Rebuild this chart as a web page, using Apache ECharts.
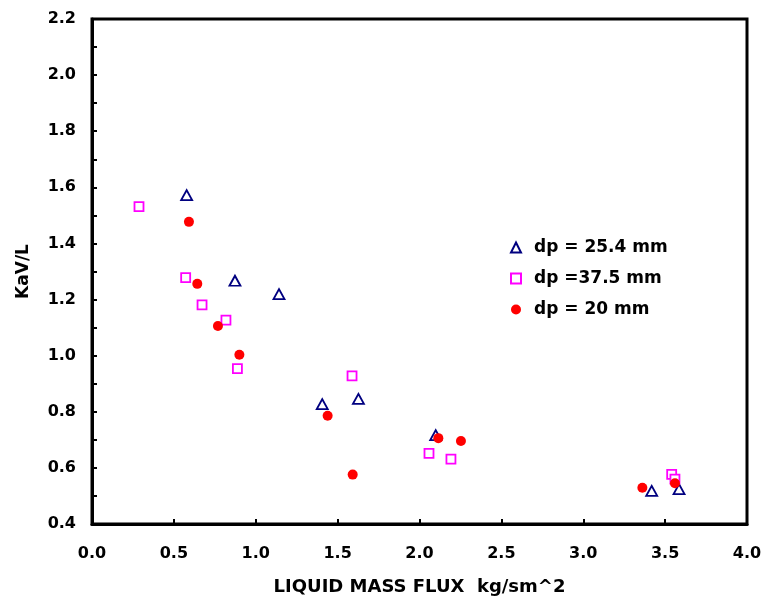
<!DOCTYPE html>
<html>
<head>
<meta charset="utf-8">
<script src="https://cdn.jsdelivr.net/npm/echarts@6/dist/echarts.min.js"></script>
<style>
html,body{margin:0;padding:0;background:#fff;}
#chart{width:762px;height:598px;}
</style>
</head>
<body>
<div id="chart"></div>
<script>
// Series data: [liquid mass flux, KaV/L]
const dp254 = [[0.578,1.572],[0.873,1.267],[1.142,1.219],[1.406,0.827],[1.627,0.846],[2.099,0.717],[3.418,0.518],[3.585,0.524]];
const dp375 = [[0.287,1.531],[0.572,1.278],[0.672,1.181],[0.818,1.127],[0.888,0.954],[1.588,0.928],[2.058,0.652],[2.192,0.631],[3.540,0.577],[3.560,0.560]];
const dp20 = [[0.592,1.477],[0.643,1.256],[0.769,1.106],[0.900,1.003],[1.439,0.786],[1.592,0.576],[2.115,0.706],[2.253,0.696],[3.361,0.529],[3.560,0.545]];
const seriesNames = ['dp = 25.4 mm','dp =37.5 mm','dp = 20 mm'];
const xName = 'LIQUID MASS FLUX  kg/sm^2';
const yName = 'KaV/L';

const FONT = 'DejaVu Sans';
const chart = echarts.init(document.getElementById('chart'), null, {renderer:'canvas'});
const axisCommon = {
  axisLine:{show:true, onZero:false, lineStyle:{color:'#000', width:3}},
  axisTick:{show:true, inside:true, length:5, lineStyle:{color:'#000', width:2}},
  splitLine:{show:false},
  axisLabel:{color:'#000', fontFamily:FONT, fontWeight:'bold', fontSize:16, formatter:v=>v.toFixed(1)},
  nameTextStyle:{color:'#000', fontFamily:FONT, fontWeight:'bold'}
};
chart.setOption({
  animation:false,
  backgroundColor:'#fff',
  grid:{left:92, top:19, width:655, height:505, containLabel:false, outerBoundsMode:'none',
        show:true, borderColor:'#000', borderWidth:3, backgroundColor:'transparent'},
  xAxis:Object.assign({}, axisCommon, {
    type:'value', min:0, max:4, interval:0.5,
    name:xName, nameLocation:'middle', nameGap:54,
    nameTextStyle:Object.assign({}, axisCommon.nameTextStyle, {fontSize:18}),
    axisLabel:Object.assign({}, axisCommon.axisLabel, {margin:22})
  }),
  yAxis:Object.assign({}, axisCommon, {
    type:'value', min:0.4, max:2.2, interval:0.2,
    minorTick:{show:true, splitNumber:2, length:5, lineStyle:{color:'#000', width:2}},
    name:yName, nameLocation:'middle', nameGap:60, nameRotate:90,
    nameTextStyle:Object.assign({}, axisCommon.nameTextStyle, {fontSize:17}),
    axisLabel:Object.assign({}, axisCommon.axisLabel, {margin:16})
  }),
  legend:{
    orient:'vertical', left:505, top:234, itemGap:14, itemWidth:10, itemHeight:10,
    textStyle:{color:'#000', fontFamily:FONT, fontWeight:'bold', fontSize:17, padding:[0,0,0,8]},
    data:seriesNames
  },
  series:[
    {name:seriesNames[0], type:'scatter', data:dp254, symbol:'triangle', symbolSize:[11,10],
     itemStyle:{color:'#fff', borderColor:'#000080', borderWidth:1.8, opacity:1}},
    {name:seriesNames[1], type:'scatter', data:dp375, symbol:'rect', symbolSize:9,
     itemStyle:{color:'#fff', borderColor:'#FF00FF', borderWidth:1.8, opacity:1}},
    {name:seriesNames[2], type:'scatter', data:dp20, symbol:'circle', symbolSize:10,
     itemStyle:{color:'#FF0000', borderWidth:0, opacity:1}}
  ]
});
</script>
</body>
</html>
